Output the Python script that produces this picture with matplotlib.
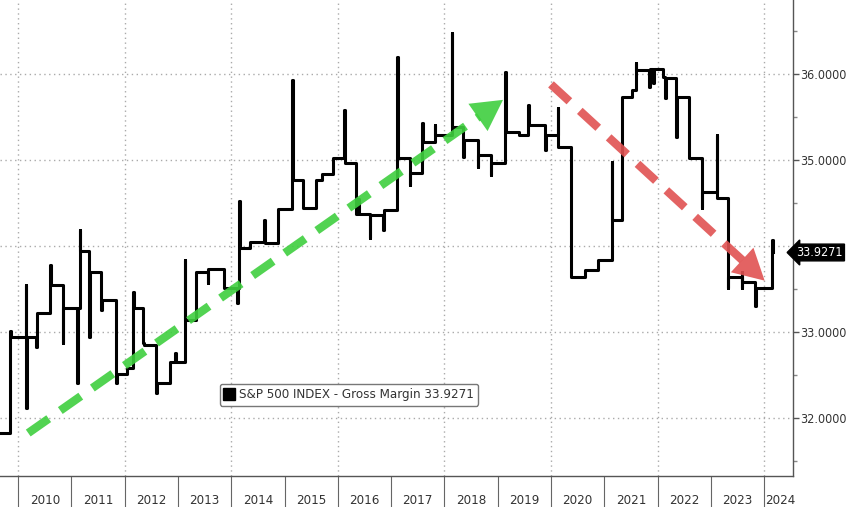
import numpy as np
import matplotlib.pyplot as plt
from matplotlib.lines import Line2D
from matplotlib.ticker import FixedLocator, FuncFormatter, NullFormatter

# S&P 500 gross margin: (fractional year, %)
dates = [2009.66, 2009.85, 2009.86, 2010.15, 2010.155, 2010.16, 2010.34, 2010.35,
         2010.60, 2010.61, 2010.84, 2010.85, 2011.11, 2011.12, 2011.16, 2011.17,
         2011.33, 2011.34, 2011.56, 2011.58, 2011.84, 2011.86, 2012.05, 2012.16,
         2012.17, 2012.35, 2012.37, 2012.59, 2012.60, 2012.85, 2012.95, 2012.97,
         2013.13, 2013.14, 2013.34, 2013.56, 2013.57, 2013.86, 2014.11, 2014.13,
         2014.15, 2014.16, 2014.35, 2014.62, 2014.63, 2014.88, 2015.14, 2015.15,
         2015.35, 2015.59, 2015.70, 2015.91, 2016.12, 2016.13, 2016.35, 2016.38,
         2016.39, 2016.60, 2016.61, 2016.85, 2016.86, 2017.11, 2017.12, 2017.35,
         2017.36, 2017.58, 2017.59, 2017.82, 2017.83, 2018.14, 2018.15, 2018.35,
         2018.36, 2018.63, 2018.64, 2018.87, 2018.88, 2019.14, 2019.15, 2019.40,
         2019.57, 2019.58, 2019.89, 2019.90, 2020.13, 2020.14, 2020.38, 2020.64,
         2020.88, 2021.14, 2021.15, 2021.33, 2021.52, 2021.59, 2021.60, 2021.84,
         2021.85, 2021.92, 2021.93, 2022.10, 2022.14, 2022.15, 2022.35, 2022.36,
         2022.59, 2022.83, 2022.84, 2023.11, 2023.12, 2023.32, 2023.33, 2023.58,
         2023.585, 2023.59, 2023.83, 2023.84, 2024.15, 2024.16]
margin = [31.83, 33.02, 32.94, 33.55, 32.12, 32.94, 32.83, 33.23,
          33.78, 33.55, 32.87, 33.28, 32.41, 33.28, 34.19, 33.95,
          32.94, 33.70, 33.26, 33.37, 32.41, 32.52, 32.59, 33.47,
          33.28, 32.87, 32.85, 32.29, 32.41, 32.65, 32.76, 32.65,
          33.84, 33.14, 33.70, 33.57, 33.74, 33.52, 33.34, 33.52,
          34.53, 33.98, 34.05, 34.30, 34.04, 34.43, 35.93, 34.77,
          34.44, 34.77, 34.84, 35.03, 35.58, 34.97, 34.38, 34.55,
          34.38, 34.09, 34.36, 34.19, 34.42, 36.20, 35.03, 34.71,
          34.85, 35.43, 35.21, 35.41, 35.29, 36.48, 35.38, 35.04,
          35.23, 34.92, 35.06, 34.83, 34.97, 36.02, 35.33, 35.29,
          35.64, 35.41, 35.12, 35.29, 35.60, 35.15, 33.64, 33.72,
          33.84, 34.98, 34.30, 35.73, 35.81, 36.13, 36.05, 35.85,
          36.06, 35.90, 36.06, 35.97, 35.72, 35.95, 35.27, 35.73,
          35.02, 34.44, 34.63, 35.29, 34.56, 33.51, 33.64, 33.51,
          33.70, 33.58, 33.31, 33.51, 34.07, 33.9271]

last_value = 33.9271
label = "S&P 500 INDEX - Gross Margin 33.9271"
years = list(range(2010, 2025))
y_major = [32, 33, 34, 35, 36]
y_minor = [31.5, 32.5, 33.5, 34.5, 35.5, 36.5]

# trend arrows (start, end) in data units
green_arrow = [(2010.19, 31.83), (2019.10, 35.70)]
red_arrow = [(2020.00, 35.88), (2024.01, 33.60)]

FONT = ['DejaVu Sans']

fig = plt.figure(figsize=(8.48, 5.07), dpi=100)
ax = fig.add_axes([0, 0.061, 0.935, 0.939])

ax.plot(dates, margin, drawstyle='steps-post', color='black', lw=2.2, zorder=3)


def trend_arrow(ax, start, end, color, head_frac):
    (x0, y0), (x1, y1) = start, end
    xm = x0 + (x1 - x0) * (1 - head_frac)
    ym = y0 + (y1 - y0) * (1 - head_frac)
    ax.plot([x0, xm], [y0, ym], color=color, lw=6, dashes=(3, 1.7),
            dash_capstyle='butt', alpha=0.9, zorder=4)
    ax.annotate('', xy=(x1, y1), xytext=(xm, ym),
                arrowprops=dict(arrowstyle='-|>,head_length=1.1,head_width=0.6',
                                mutation_scale=20, color=color, lw=0,
                                shrinkA=0, shrinkB=0, alpha=0.9),
                zorder=4)


trend_arrow(ax, *green_arrow, color='#3fcf3f', head_frac=0.05)
trend_arrow(ax, *red_arrow, color='#e05252', head_frac=0.095)

ax.set_xlim(2009.66, 2024.54)
ax.set_ylim(31.33, 36.86)

# x axis: long ticks at year boundaries, labels centred in each year
ax.xaxis.set_major_locator(FixedLocator(years))
ax.xaxis.set_major_formatter(NullFormatter())
ax.xaxis.set_minor_locator(FixedLocator([y + 0.5 for y in years[:-1]] + [2024.3]))
ax.xaxis.set_minor_formatter(FuncFormatter(lambda v, p: str(int(v))))
ax.tick_params(axis='x', which='major', length=25, width=0.8, color='#666666')
ax.tick_params(axis='x', which='minor', length=0, pad=13, labelsize=9.5,
               labelcolor='#333333')

# y axis on the right
ax.yaxis.tick_right()
ax.yaxis.set_major_locator(FixedLocator(y_major))
ax.yaxis.set_minor_locator(FixedLocator(y_minor))
ax.yaxis.set_major_formatter(FuncFormatter(lambda v, p: '' if v == 34 else f'{v:.4f}'))
ax.tick_params(axis='y', which='major', length=4, width=1, pad=1.5, labelsize=9,
               color='#555555', labelcolor='#333333')
ax.tick_params(axis='y', which='minor', length=3, width=1, color='#888888')
for t in ax.get_xticklabels(minor=True) + ax.get_yticklabels():
    t.set_family(FONT)
    t.set_fontstretch('condensed')

# dotted grid: integers horizontally, every other year vertically
for v in y_major:
    ax.axhline(v, color='#aaaaaa', lw=1, ls=(0, (1, 2.5)), zorder=1)
for y in years[::2]:
    ax.axvline(y, color='#aaaaaa', lw=1, ls=(0, (1, 2.5)), zorder=1)

for side in ['top', 'left']:
    ax.spines[side].set_visible(False)
for side in ['right', 'bottom']:
    ax.spines[side].set_color('#555555')
    ax.spines[side].set_linewidth(1)

# last value tag
ax.text(1.004, last_value, f'{last_value:.4f}', transform=ax.get_yaxis_transform(),
        ha='left', va='center', color='white', fontsize=9, family=FONT,
        fontstretch='condensed',
        bbox=dict(boxstyle='larrow,pad=0.15', fc='black', ec='black'), clip_on=False)

handle = Line2D([], [], marker='s', color='black', ls='none', markersize=8)
leg = ax.legend([handle], [label], loc='center', bbox_to_anchor=(0.44, 0.171),
                fancybox=True, framealpha=1, edgecolor='#777777',
                handlelength=0.8, handletextpad=0.3, borderpad=0.35,
                prop={'family': FONT, 'size': 9.5, 'stretch': 'condensed'})
leg.get_frame().set_linewidth(1)
for t in leg.get_texts():
    t.set_color('#333333')

fig.savefig('out.png', dpi=100)
